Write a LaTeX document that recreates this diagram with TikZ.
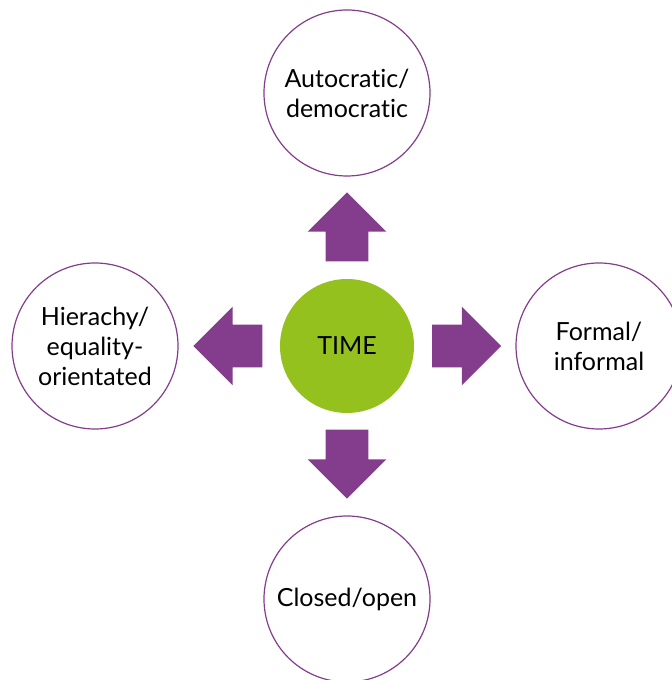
\documentclass[tikz,border=0pt]{standalone}
\usepackage{fontspec}
\setmainfont{Lato}[Ligatures=NoCommon]
\usetikzlibrary{shapes.arrows}
\definecolor{timegreen}{HTML}{95C11F}
\definecolor{plum}{HTML}{843C8C}

\begin{document}
\begin{tikzpicture}[x=0.5pt,y=0.5pt,
        aspect/.style={circle,draw=plum,line width=0.6pt,minimum size=83pt,inner sep=0pt,align=center,font=\fontsize{12.5}{15}\selectfont},
        hub/.style={circle,fill=timegreen,minimum size=67pt,inner sep=0pt,font=\fontsize{12.5}{15}\selectfont},
        push/.style={single arrow,fill=plum,inner sep=10.5pt,minimum height=34.5pt,single arrow head extend=9pt,single arrow head indent=0pt,rotate=#1}]
        \useasboundingbox (0,0) rectangle (671,680);
        \node[hub](time) at (347,334) {TIME};
        \node[aspect](auto) at (347,587) {Autocratic/\\democratic};
        \node[aspect](hier) at (95,334) {Hierachy/\\equality-\\orientated};
        \node[aspect](form) at (599,334) {Formal/\\informal};
        \node[aspect](clos) at (347,81) {Closed/open};
        \node[push=90](up) at (347,442.5) {};
        \node[push=180](left) at (238.5,334) {};
        \node[push=0](right) at (456,334) {};
        \node[push=-90](down) at (347,226.5) {};
        \end{tikzpicture}
\end{document}
